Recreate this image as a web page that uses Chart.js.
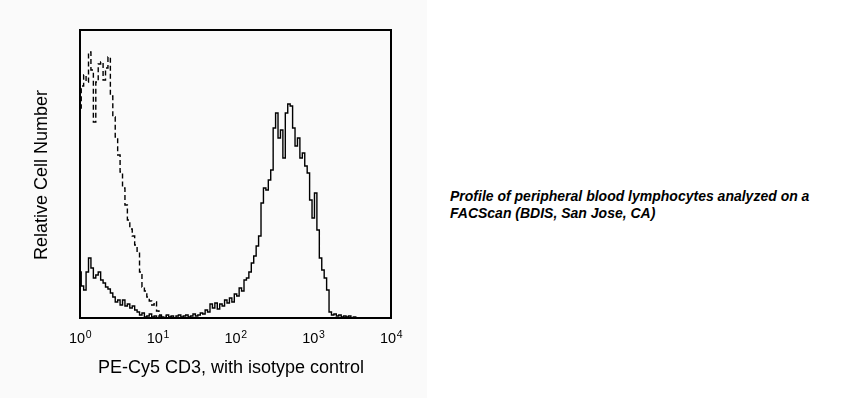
<!DOCTYPE html>
<html>
<head>
<meta charset="utf-8">
<script src="https://cdn.jsdelivr.net/npm/chart.js@4/dist/chart.umd.min.js"></script>
<style>
  html, body { margin: 0; padding: 0; background: #ffffff; }
  #panel { position: absolute; left: 0; top: 0; width: 427px; height: 398px; background: #fafafa; }
  #caption {
    position: absolute; left: 450px; top: 188px;
    font: italic bold 14px "Liberation Sans", Arial, sans-serif;
    line-height: 17px; color: #000; white-space: nowrap;
  }
</style>
</head>
<body>
<div id="panel"><canvas id="myChart" width="427" height="398"></canvas></div>
<div id="caption">Profile of peripheral blood lymphocytes analyzed on a<br>FACScan (BDIS, San Jose, CA)</div>
<script>
// 128 log channels over 4 decades (32 channels per decade)
const channelCount = 128;
const decadeChannels = [0, 32, 64, 96, 128];
const decadeExponents = ['0', '1', '2', '3', '4'];

const xTitle = 'PE-Cy5 CD3, with isotype control';
const yTitle = 'Relative Cell Number';

// isotype control (dashed), counts per channel
const isotypeCounts = [
  210, 232, 243, 236, 266, 248, 196, 236, 254, 256, 238, 250, 261, 222, 201, 181,
  163, 146, 130, 113, 98, 89, 82, 73, 66, 46, 31, 27, 21, 17, 13, 16,
  7, 3, 1, 0, 2, 0, 1, 0, 0, 0, 0, 0, 0, 0, 0, 0,
  0, 0, 0, 0, 0, 0, 0, 0, 0, 0, 0, 0, 0, 0, 0, 0,
  0, 0, 0, 0, 0, 0, 0, 0, 0, 0, 0, 0, 0, 0, 0, 0,
  0, 0, 0, 0, 0, 0, 0, 0, 0, 0, 0, 0, 0, 0, 0, 0,
  0, 0, 0, 0, 0, 0, 0, 0, 0, 0, 0, 0, 0, 0, 0, 0,
  0, 0, 0, 0, 0, 0, 0, 0, 0, 0, 0, 0, 0, 0, 0, 0
];

// PE-Cy5 CD3 stained (solid), counts per channel
const cd3Counts = [
  46, 32, 28, 46, 60, 50, 40, 43, 46, 38, 35, 31, 29, 25, 21, 16,
  18, 13, 18, 12, 14, 10, 12, 8, 6, 3, 5, 1, 2, 4, 1, 2,
  0, 2, 1, 0, 3, 1, 2, 0, 2, 3, 1, 2, 3, 1, 2, 4,
  2, 3, 5, 4, 8, 6, 14, 10, 15, 9, 14, 12, 18, 15, 20, 16,
  24, 22, 30, 27, 38, 40, 46, 55, 62, 72, 82, 115, 130, 128, 138, 148,
  190, 205, 180, 188, 160, 205, 214, 212, 190, 172, 180, 160, 165, 152, 145, 118,
  100, 125, 88, 60, 48, 40, 28, 6, 3, 4, 2, 3, 1, 2, 1, 2,
  0, 1, 0, 0, 0, 0, 0, 0, 0, 0, 0, 0, 0, 0, 0, 0
];

const toPoints = arr => arr.map((v, i) => ({ x: i, y: v }));

const fontFamily = '"Liberation Sans", Arial, sans-serif';

const framePlugin = {
  id: 'frame',
  afterDatasetsDraw(chart) {
    const { ctx, chartArea: a, scales } = chart;
    ctx.save();
    ctx.strokeStyle = '#000';
    ctx.lineWidth = 2;
    ctx.strokeRect(a.left, a.top, a.right - a.left, a.bottom - a.top);

    // decade tick labels 10^n
    ctx.fillStyle = '#000';
    ctx.textBaseline = 'alphabetic';
    decadeChannels.forEach((ch, k) => {
      const px = scales.x.getPixelForValue(ch);
      ctx.font = '14.5px ' + fontFamily;
      const wBase = ctx.measureText('10').width;
      ctx.font = '10.5px ' + fontFamily;
      const wExp = ctx.measureText(decadeExponents[k]).width;
      const x0 = px - (wBase + wExp) / 2;
      ctx.font = '14.5px ' + fontFamily;
      ctx.textAlign = 'left';
      ctx.fillText('10', x0, 342.5);
      ctx.font = '10.5px ' + fontFamily;
      ctx.fillText(decadeExponents[k], x0 + wBase + 0.5, 338);
    });

    // axis titles
    ctx.font = '18px ' + fontFamily;
    ctx.textAlign = 'center';
    ctx.fillText(xTitle, 231, 373);
    ctx.translate(47, 175);
    ctx.rotate(-Math.PI / 2);
    ctx.fillText(yTitle, 0, 0);
    ctx.restore();
  }
};

new Chart(document.getElementById('myChart'), {
  type: 'line',
  data: {
    datasets: [{
      label: 'Isotype control',
      data: toPoints(isotypeCounts),
      borderColor: '#000',
      borderWidth: 1.4,
      borderDash: [5, 3],
      pointRadius: 0,
      stepped: 'middle',
      fill: false
    }, {
      label: 'PE-Cy5 CD3',
      data: toPoints(cd3Counts),
      borderColor: '#000',
      borderWidth: 1.4,
      pointRadius: 0,
      stepped: 'middle',
      fill: false
    }]
  },
  options: {
    responsive: false,
    animation: false,
    layout: { padding: { left: 80, top: 30, right: 36, bottom: 80 } },
    plugins: { legend: { display: false }, tooltip: { enabled: false } },
    scales: {
      x: { type: 'linear', min: 0, max: channelCount, display: false },
      y: { min: 0, max: 288, display: false }
    }
  },
  plugins: [framePlugin]
});
</script>
</body>
</html>
